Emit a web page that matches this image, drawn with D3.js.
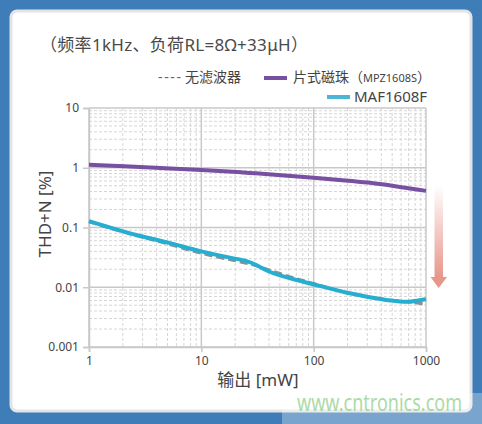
<!DOCTYPE html>
<html>
<meta charset="utf-8">
<script src="https://d3js.org/d3.v7.min.js"></script>
<style>
  body { margin: 0; }
  text { font-family: "Noto Sans", "Noto Sans CJK SC", sans-serif; }
</style>
<body>
<div id="chart"></div>
<script>
    // values (output mW -> THD+N %)
    const outputMw = [1, 2, 3, 5, 10, 20, 30, 40, 50, 70, 100, 150, 200, 300, 500, 700, 800, 1000];
    const noFilter = [0.125, 0.084, 0.068, 0.054, 0.036, 0.028, 0.0235, 0.0195, 0.017, 0.0138, 0.0116, 0.0093, 0.0079, 0.0069, 0.006, 0.0057, 0.0055, 0.0052];
    const mafPower = [1, 2, 3, 5, 10, 20, 25, 30, 40, 50, 70, 100, 150, 200, 300, 500, 700, 800, 1000];
    const maf1608f = [0.128, 0.086, 0.07, 0.057, 0.039, 0.03, 0.028, 0.0245, 0.018, 0.0158, 0.0132, 0.0112, 0.0092, 0.008, 0.0069, 0.0059, 0.0056, 0.0059, 0.0063];
    const beadPower = [1, 2, 5, 10, 20, 30, 50, 100, 200, 300, 500, 1000];
    const mpz1608s = [1.12, 1.07, 0.98, 0.92, 0.86, 0.81, 0.75, 0.68, 0.61, 0.57, 0.5, 0.41];

    const xTicks = [1, 10, 100, 1000];
    const yTicks = [0.001, 0.01, 0.1, 1, 10];
    const yTickText = ["0.001", "0.01", "0.1", "1", "10"];

    const W = 482, H = 424;
    const margin = {top: 108, right: 56, bottom: 77, left: 89};
    const width = 426 - margin.left, height = 347 - margin.top;

    const svg = d3.select("#chart").append("svg")
        .attr("width", W).attr("height", H);

    const defs = svg.append("defs");
    const grad = defs.append("linearGradient")
        .attr("id", "arrowGrad").attr("x1", 0).attr("y1", 0).attr("x2", 0).attr("y2", 1);
    grad.append("stop").attr("offset", "0%").attr("stop-color", "#e8958a").attr("stop-opacity", 0);
    grad.append("stop").attr("offset", "100%").attr("stop-color", "#e8958a").attr("stop-opacity", 1);

    // background + panel
    svg.append("rect").attr("width", W).attr("height", H).attr("fill", "#3f7db8");
    svg.append("rect")
        .attr("x", 11).attr("y", 11).attr("width", 460).attr("height", 400).attr("rx", 6)
        .attr("fill", "#fff").attr("stroke", "#e2e4e6").attr("stroke-width", 3);

    // title
    svg.append("text")
        .attr("x", 40).attr("y", 51)
        .attr("font-family", "'Noto Sans CJK SC'")
        .attr("font-size", 17).attr("fill", "#4a4a4a")
        .attr("textLength", 268).attr("lengthAdjust", "spacing")
        .text("（频率1kHz、负荷RL=8Ω+33μH）");

    const g = svg.append("g").attr("transform", "translate(" + margin.left + "," + margin.top + ")");

    const x = d3.scaleLog().domain([1, 1000]).range([0, width]);
    const y = d3.scaleLog().domain([0.001, 10]).range([height, 0]);

    // minor grid
    const minorX = [], minorY = [];
    [1, 10, 100].forEach(function(d) { for (let k = 2; k <= 9; k++) minorX.push(d * k); });
    [0.001, 0.01, 0.1, 1].forEach(function(d) { for (let k = 2; k <= 9; k++) minorY.push(d * k); });

    g.selectAll(".minX").data(minorX).enter().append("line")
        .attr("x1", d => x(d)).attr("x2", d => x(d)).attr("y1", 0).attr("y2", height)
        .attr("stroke", "#d6d6d6").attr("stroke-dasharray", "3,2").attr("stroke-width", 1);
    g.selectAll(".minY").data(minorY).enter().append("line")
        .attr("y1", d => y(d)).attr("y2", d => y(d)).attr("x1", 0).attr("x2", width)
        .attr("stroke", "#d6d6d6").attr("stroke-dasharray", "3,2").attr("stroke-width", 1);

    // major grid
    g.selectAll(".majX").data(xTicks).enter().append("line")
        .attr("x1", d => x(d)).attr("x2", d => x(d)).attr("y1", 0).attr("y2", height)
        .attr("stroke", "#c8c8c8").attr("stroke-width", 1.5);
    g.selectAll(".majY").data(yTicks).enter().append("line")
        .attr("y1", d => y(d)).attr("y2", d => y(d)).attr("x1", 0).attr("x2", width)
        .attr("stroke", "#c8c8c8").attr("stroke-width", 1.5);

    // axes
    const xAxis = g.append("g").attr("transform", "translate(0," + height + ")")
        .call(d3.axisBottom(x).tickValues(xTicks).tickFormat(d3.format("d")).tickSize(5).tickPadding(4));
    const yAxis = g.append("g")
        .call(d3.axisLeft(y).tickValues(yTicks).tickFormat((d, i) => yTickText[i]).tickSize(6).tickPadding(4));
    [xAxis, yAxis].forEach(function(a) {
        a.select(".domain").attr("stroke", "#c8c8c8").attr("stroke-width", 1.5);
        a.selectAll(".tick line").attr("stroke", "#c8c8c8").attr("stroke-width", 1.5);
        a.selectAll(".tick text").attr("fill", "#444").attr("font-size", 12)
            .attr("font-family", "'Noto Sans'");
    });

    // curves
    const line = d3.line()
        .x(d => x(d[0])).y(d => y(d[1]))
        .curve(d3.curveBasis);

    g.append("path").datum(d3.zip(outputMw, noFilter))
        .attr("d", line).attr("fill", "none")
        .attr("stroke", "#8f8f8f").attr("stroke-width", 3).attr("stroke-dasharray", "8,4");
    g.append("path").datum(d3.zip(mafPower, maf1608f))
        .attr("d", line).attr("fill", "none")
        .attr("stroke", "#26aed0").attr("stroke-width", 4);
    g.append("path").datum(d3.zip(beadPower, mpz1608s))
        .attr("d", line).attr("fill", "none")
        .attr("stroke", "#7750a2").attr("stroke-width", 4);

    // axis titles
    svg.append("text")
        .attr("transform", "translate(51,214) rotate(-90)")
        .attr("text-anchor", "middle")
        .attr("font-size", 17).attr("fill", "#444")
        .text("THD+N [%]");
    svg.append("text")
        .attr("x", 258).attr("y", 386)
        .attr("text-anchor", "middle")
        .attr("font-family", "'Noto Sans CJK SC'")
        .attr("font-size", 17).attr("fill", "#444")
        .text("输出 [mW]");

    // legend
    const lg = svg.append("g").attr("font-family", "'Noto Sans CJK SC'").attr("fill", "#444");
    lg.append("text").attr("x", 158).attr("y", 82).attr("font-size", 14).attr("fill", "#666")
        .attr("textLength", 23).attr("lengthAdjust", "spacing").text("----");
    lg.append("text").attr("x", 185).attr("y", 82).attr("font-size", 14).text("无滤波器");
    lg.append("line").attr("x1", 264).attr("x2", 287).attr("y1", 78).attr("y2", 78)
        .attr("stroke", "#7750a2").attr("stroke-width", 4);
    const t1 = lg.append("text").attr("x", 293).attr("y", 82).attr("font-size", 14);
    t1.append("tspan").text("片式磁珠（");
    t1.append("tspan").attr("font-size", 11).attr("font-family", "'Noto Sans'").text("MPZ1608S");
    t1.append("tspan").text("）");
    lg.append("line").attr("x1", 327).attr("x2", 350).attr("y1", 97).attr("y2", 97)
        .attr("stroke", "#4ab8d4").attr("stroke-width", 4);
    lg.append("text").attr("x", 354).attr("y", 102).attr("font-size", 15)
        .attr("font-family", "'Noto Sans'").text("MAF1608F");

    // arrow
    svg.append("rect").attr("x", 434.5).attr("y", 185).attr("width", 8.5).attr("height", 93)
        .attr("fill", "url(#arrowGrad)");
    svg.append("path").attr("d", "M430.5,277 L447,277 L438.7,288 Z").attr("fill", "#e8958a");

    // watermark
    svg.append("rect").attr("x", 282).attr("y", 393).attr("width", 200).attr("height", 31)
        .attr("fill", "#fff").attr("opacity", 0.3);
    svg.append("text").attr("x", 297).attr("y", 411)
        .attr("font-family", "'Liberation Sans'").attr("font-size", 23)
        .attr("fill", "#8fd08a").attr("opacity", 0.75)
        .attr("textLength", 165).attr("lengthAdjust", "spacingAndGlyphs")
        .text("www.cntronics.com");
</script>
</body>
</html>
